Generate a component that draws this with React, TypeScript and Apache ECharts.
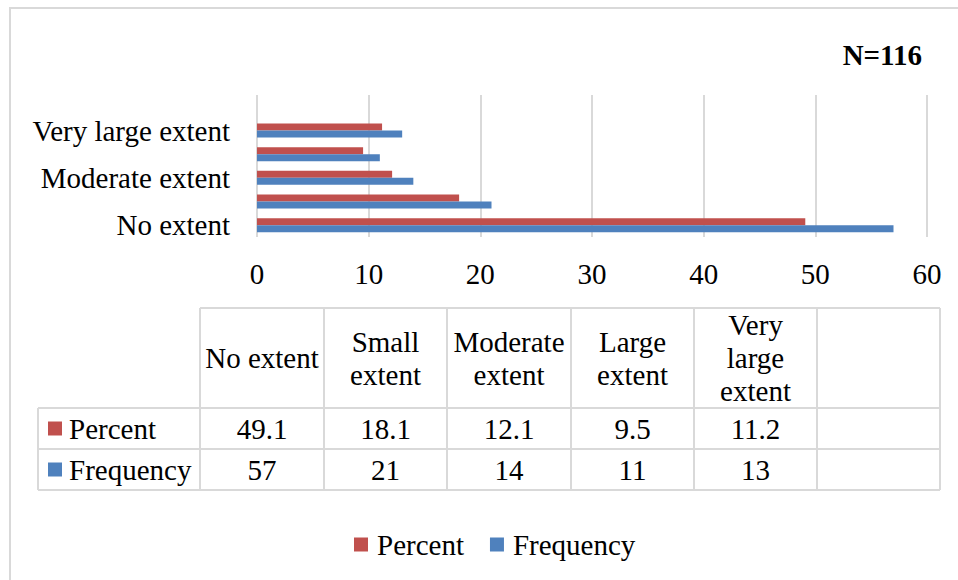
import React, { useEffect, useRef } from "react";
import * as echarts from "echarts";

const categories = ["No extent", "Small extent", "Moderate extent", "Large extent", "Very large extent", ""];
const tableHeaders = ["No extent", "Small\nextent", "Moderate\nextent", "Large\nextent", "Very\nlarge\nextent", ""];
const percentValues = [49.1, 18.1, 12.1, 9.5, 11.2];
const frequencyValues = [57, 21, 14, 11, 13];
const seriesNames = ["Percent", "Frequency"];
const seriesColors = ["#C0504D", "#4F81BD"];
const xTicks = { min: 0, max: 60, interval: 10 };
const noteText = "N=116";

const FONT = '"Liberation Serif", "Times New Roman", serif';
const GRID = "#D9D9D9";
const FS = 29;

export default function App() {
  const ref = useRef<HTMLDivElement>(null);
  useEffect(() => {
    if (!ref.current) return;
    const chart = echarts.init(ref.current, undefined, { renderer: "svg" });

    const colX = [200, 324, 447, 571, 694, 817, 940];
    const rowY = [308, 408, 449, 490];
    const leftX = 38;
    const g: any[] = [];
    const line = (x1: number, y1: number, x2: number, y2: number) => ({
      type: "line",
      shape: { x1, y1, x2, y2 },
      style: { stroke: GRID, lineWidth: 2 },
      silent: true,
    });
    g.push(line(colX[0], rowY[0], colX[6], rowY[0]));
    for (let r = 1; r < rowY.length; r++) g.push(line(leftX, rowY[r], colX[6], rowY[r]));
    g.push(line(leftX, rowY[1], leftX, rowY[3]));
    colX.forEach((x) => g.push(line(x, rowY[0], x, rowY[3])));
    const txt = (text: string, x: number, y: number, align = "center", extra: any = {}) => ({
      type: "text",
      x,
      y,
      style: {
        text,
        fontSize: FS,
        fontFamily: FONT,
        fill: "#000",
        align,
        verticalAlign: "middle",
        lineHeight: 33,
        ...extra,
      },
      silent: true,
    });
    tableHeaders.forEach((h, i) => {
      if (h) g.push(txt(h, (colX[i] + colX[i + 1]) / 2, (rowY[0] + rowY[1]) / 2));
    });
    const rows = [percentValues, frequencyValues];
    rows.forEach((vals, r) => {
      const cy = (rowY[r + 1] + rowY[r + 2]) / 2;
      g.push({
        type: "rect",
        shape: { x: 48, y: cy - 7, width: 14, height: 14 },
        style: { fill: seriesColors[r] },
        silent: true,
      });
      g.push(txt(seriesNames[r], 69, cy, "left"));
      vals.forEach((v, i) => g.push(txt(String(v), (colX[i] + colX[i + 1]) / 2, cy)));
    });
    g.push(txt(noteText, 922, 55, "right", { fontWeight: "bold" }));
    g.push({
      type: "rect",
      shape: { x: 10, y: 8, width: 960, height: 590 },
      style: { fill: "none", stroke: GRID, lineWidth: 2 },
      silent: true,
      z: -10,
    });

    chart.setOption({
      animation: false,
      textStyle: { fontFamily: FONT },
      grid: { left: 257, right: 31, top: 95, height: 142, containLabel: false },
      xAxis: {
        type: "value",
        min: xTicks.min,
        max: xTicks.max,
        interval: xTicks.interval,
        axisLine: { show: false },
        axisTick: { show: false },
        splitLine: { show: true, lineStyle: { color: GRID, width: 2 } },
        axisLabel: { fontSize: FS, fontFamily: FONT, color: "#000", margin: 22 },
      },
      yAxis: {
        type: "category",
        data: categories,
        axisLine: { show: false },
        axisTick: { show: false },
        axisLabel: { interval: 1, fontSize: FS, fontFamily: FONT, color: "#000", margin: 27 },
      },
      legend: {
        left: 349,
        top: 525,
        itemWidth: 14,
        itemHeight: 14,
        itemGap: 26,
        icon: "rect",
        textStyle: { fontSize: FS, fontFamily: FONT, color: "#000", padding: [0, 0, 0, 4] },
        data: seriesNames,
      },
      series: [
        {
          name: seriesNames[0],
          type: "bar",
          data: [...percentValues, null],
          barWidth: 7,
          barGap: "0%",
          itemStyle: { color: seriesColors[0] },
        },
        {
          name: seriesNames[1],
          type: "bar",
          data: [...frequencyValues, null],
          barWidth: 7,
          barGap: "0%",
          itemStyle: { color: seriesColors[1] },
        },
      ],
      graphic: g,
    });
    return () => chart.dispose();
  }, []);
  return (
    <div
      ref={ref}
      style={{ position: "fixed", left: 0, top: 0, width: 958, height: 580, background: "#fff" }}
    />
  );
}
